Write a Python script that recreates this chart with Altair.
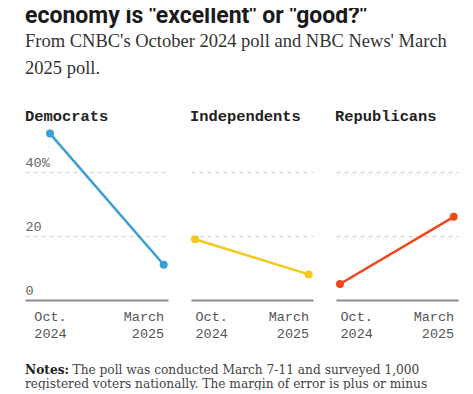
import altair as alt
import pandas as pd

# ---- data ----
parties = ["Democrats", "Independents", "Republicans"]
periods = ["Oct. 2024", "March 2025"]
democrats = [52, 11]
independents = [19, 8]
republicans = [5, 26]
party_colors = ["#3a9fd4", "#f4c91b", "#f2461d"]
y_ticks = [0, 20, 40]

heading = 'economy is "excellent" or "good?"'
subtitle = ["From CNBC's October 2024 poll and NBC News' March", "2025 poll."]
notes_label = "Notes:"
notes_lines = ["The poll was conducted March 7-11 and surveyed 1,000",
               "registered voters nationally. The margin of error is plus or minus"]

MONO = "Liberation Mono"
SERIF_SUB = "Liberation Serif"
SERIF_NOTE = "DejaVu Serif"
SANS = "Roboto"

series = [democrats, independents, republicans]


def panel(i):
    first = i == 0
    df = pd.DataFrame({"period": periods, "pct": series[i]})
    width = 143 if first else 122
    pad = 0.129 if first else 0.0365
    algn = 0.853 if first else 0.48
    x = alt.X(
        "period:O", sort=periods,
        scale=alt.Scale(type="point", padding=pad, align=algn),
        axis=alt.Axis(
            title=None, labelAngle=0,
            labelExpr="split(datum.label, ' ')",
            labelAlign={"condition": {"test": "datum.value == 'Oct. 2024'",
                                      "value": "center" if first else "left"},
                        "value": "right"},
            labelBaseline="top", labelPadding=9, labelLineHeight=17,
            labelFont=MONO, labelFontSize=13.5, labelColor="#555555",
            ticks=False, tickSize=0, domain=True, domainColor="#8c8c8c",
            domainWidth=2, grid=False),
    )
    y = alt.Y(
        "pct:Q",
        scale=alt.Scale(domain=[0, 55], nice=False, zero=True),
        axis=alt.Axis(
            title=None, values=y_ticks, grid=True, gridDash=[4, 4],
            gridColor="#cfcfcf", gridWidth=1, domain=False, ticks=False,
            tickSize=0, labels=first, labelAlign="left",
            labelBaseline="alphabetic", labelPadding=0, labelOffset=-6,
            labelExpr="datum.value == 40 ? datum.label + '%' : datum.label",
            labelFont=MONO, labelFontSize=13.5, labelColor="#666666"),
    )
    base = alt.Chart(df)
    line = base.mark_line(color=party_colors[i], strokeWidth=2.5).encode(x=x, y=y)
    pts = base.mark_circle(color=party_colors[i], size=64, opacity=1).encode(x=x, y=y)
    return alt.layer(line, pts).properties(
        width=width, height=176,
        title=alt.TitleParams(parties[i], anchor="start", font=MONO, fontSize=15.4,
                              fontWeight="bold", color="#222222", offset=-12,
                              baseline="alphabetic"),
    )


one = pd.DataFrame({"k": [0]})

head = alt.Chart(one).mark_text(
    font=SANS, fontSize=23, fontWeight="bold", color="#1a1a1a",
    align="left", baseline="alphabetic", clip=True,
).encode(x=alt.value(0), y=alt.value(14.5), text=alt.value(heading))

sub = alt.Chart(one).mark_text(
    font=SERIF_SUB, fontSize=18.5, color="#333333", align="left",
    baseline="alphabetic", lineHeight=26.7,
).encode(x=alt.value(0), y=alt.value(39.3), text=alt.value(subtitle))

header = alt.layer(head, sub).properties(width=428, height=100)

nb = alt.Chart(one).mark_text(
    font=SERIF_NOTE, fontSize=12.2, fontWeight="bold", color="#222222",
    align="left", baseline="alphabetic",
).encode(x=alt.value(0), y=alt.value(34), text=alt.value(notes_label))

n1 = alt.Chart(one).mark_text(
    font=SERIF_NOTE, fontSize=12.2, color="#444444", align="left", baseline="alphabetic",
).encode(x=alt.value(47.5), y=alt.value(34), text=alt.value(notes_lines[0]))

n2 = alt.Chart(one).mark_text(
    font=SERIF_NOTE, fontSize=12.2, color="#444444", align="left", baseline="alphabetic",
).encode(x=alt.value(0), y=alt.value(47.5), text=alt.value(notes_lines[1]))

footer = alt.layer(nb, n1, n2).properties(width=428, height=50)

panels = alt.hconcat(*[panel(i) for i in range(3)], spacing=20)

chart = alt.vconcat(header, panels, footer, spacing=0).properties(
    padding={"left": 17, "top": 0, "right": 0, "bottom": 0},
    background="white",
).configure_view(strokeWidth=0)

chart.save("out.html", embed_options={"renderer": "svg", "actions": False})
